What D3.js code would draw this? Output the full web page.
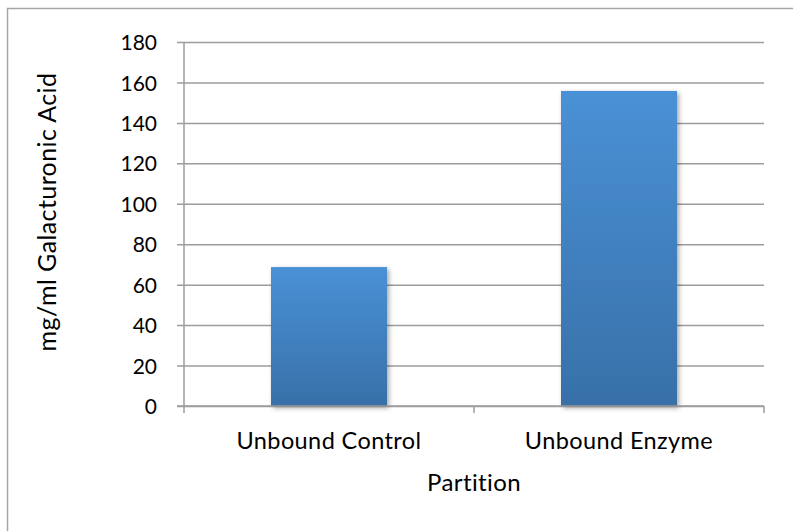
<!DOCTYPE html>
<html>
<head>
<meta charset="utf-8">
<script src="https://cdn.jsdelivr.net/npm/d3@7"></script>
<style>
  html, body { margin: 0; padding: 0; background: #fff; }
  svg text { font-family: Lato, "Open Sans", sans-serif; fill: #000; }
</style>
</head>
<body>
<svg id="chart" width="793" height="531"></svg>
<script>
const categories = ["Unbound Control", "Unbound Enzyme"];
const values = [68.7, 155.8];
const yTicks = [0, 20, 40, 60, 80, 100, 120, 140, 160, 180];
const xTitle = "Partition";
const yTitle = "mg/ml Galacturonic Acid";

const svg = d3.select("#chart");
const plot = { left: 184, right: 764, top: 42, bottom: 406 };

// Outer chart frame
svg.append("rect")
  .attr("x", 7.5).attr("y", 8.5)
  .attr("width", 800).attr("height", 540)
  .attr("fill", "none").attr("stroke", "#a6a6a6").attr("stroke-width", 1.5);

const x = d3.scaleBand()
  .domain(categories)
  .range([plot.left, plot.right])
  .paddingInner(0.6)
  .paddingOuter(0.3);

const y = d3.scaleLinear()
  .domain([0, 180])
  .range([plot.bottom, plot.top]);

const defs = svg.append("defs");
const grad = defs.append("linearGradient")
  .attr("id", "barFill").attr("x1", 0).attr("y1", 0).attr("x2", 0).attr("y2", 1);
grad.append("stop").attr("offset", "0%").attr("stop-color", "#4a91d6");
grad.append("stop").attr("offset", "100%").attr("stop-color", "#3870a8");

const shadow = defs.append("filter").attr("id", "barShadow")
  .attr("x", "-20%").attr("y", "-20%").attr("width", "140%").attr("height", "140%");
shadow.append("feGaussianBlur").attr("in", "SourceAlpha").attr("stdDeviation", 2.5).attr("result", "b");
shadow.append("feOffset").attr("in", "b").attr("dx", 1.5).attr("dy", 1.5).attr("result", "o");
shadow.append("feComponentTransfer").attr("in", "o").attr("result", "s")
  .append("feFuncA").attr("type", "linear").attr("slope", 0.35);
const merge = shadow.append("feMerge");
merge.append("feMergeNode").attr("in", "s");
merge.append("feMergeNode").attr("in", "SourceGraphic");

// Horizontal gridlines with small ticks to the left of the axis
const yAxis = d3.axisLeft(y)
  .tickValues(yTicks)
  .tickSize(-(plot.right - plot.left))
  .tickSizeOuter(0)
  .tickFormat(d3.format("d"));

const gy = svg.append("g")
  .attr("transform", `translate(${plot.left},0)`)
  .call(yAxis);
gy.select(".domain").remove();
gy.selectAll(".tick line")
  .attr("x1", -7)
  .attr("stroke", "#9c9c9c").attr("stroke-width", 1.5);
gy.selectAll(".tick text")
  .attr("font-size", 21)
  .attr("dy", "0.36em")
  .attr("x", -27);

// Bars
svg.append("g").selectAll("rect")
  .data(categories.map((c, i) => ({ c, v: values[i] })))
  .join("rect")
  .attr("x", d => x(d.c))
  .attr("y", d => y(d.v))
  .attr("width", x.bandwidth())
  .attr("height", d => y(0) - y(d.v))
  .attr("fill", "url(#barFill)")
  .attr("filter", "url(#barShadow)");

// Vertical axis line
svg.append("line")
  .attr("x1", plot.left).attr("x2", plot.left)
  .attr("y1", plot.top).attr("y2", plot.bottom + 7)
  .attr("stroke", "#9c9c9c").attr("stroke-width", 1.5);

// Category axis: baseline, boundary ticks and labels
const gx = svg.append("g");
gx.append("line")
  .attr("x1", plot.left - 7).attr("x2", plot.right)
  .attr("y1", plot.bottom).attr("y2", plot.bottom)
  .attr("stroke", "#9c9c9c").attr("stroke-width", 1.5);
const boundaries = [plot.left + x.step(), plot.right];
gx.selectAll(".bt")
  .data(boundaries)
  .join("line")
  .attr("x1", d => d).attr("x2", d => d)
  .attr("y1", plot.bottom).attr("y2", plot.bottom + 7)
  .attr("stroke", "#9c9c9c").attr("stroke-width", 1.5);
gx.selectAll("text")
  .data(categories)
  .join("text")
  .attr("x", d => x(d) + x.bandwidth() / 2)
  .attr("y", 449)
  .attr("text-anchor", "middle")
  .attr("font-size", 23.5)
  .attr("letter-spacing", 0.4)
  .text(d => d);

// Axis titles
svg.append("text")
  .attr("x", (plot.left + plot.right) / 2)
  .attr("y", 491)
  .attr("text-anchor", "middle")
  .attr("font-size", 24)
  .attr("letter-spacing", 0.4)
  .text(xTitle);

svg.append("text")
  .attr("transform", `translate(56,212) rotate(-90)`)
  .attr("text-anchor", "middle")
  .attr("font-size", 25)
  .attr("letter-spacing", 0.4)
  .text(yTitle);
</script>
</body>
</html>
